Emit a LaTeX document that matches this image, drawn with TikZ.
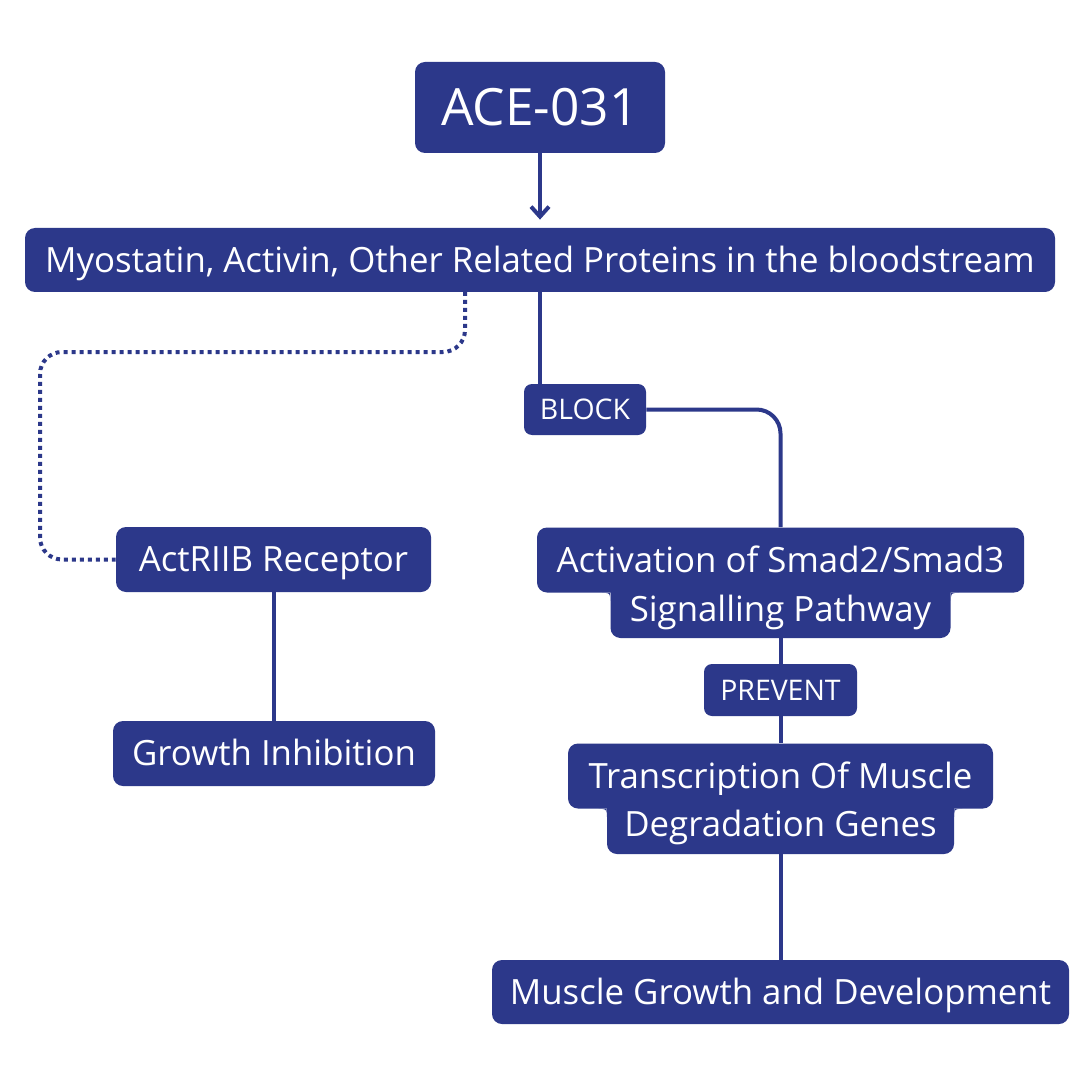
\documentclass[tikz,border=0pt]{standalone}
\usepackage{fontspec}
\setmainfont{Open Sans}
\usepackage{tikz}
\usetikzlibrary{arrows.meta,calc,positioning}
\definecolor{plexblue}{RGB}{44,56,138}

\tikzset{
  box/.style={fill=plexblue, text=white, rounded corners=5pt, inner sep=0pt, align=center,
    text height=12.5pt, text depth=0.1pt},
  tag/.style={box, rounded corners=4pt, font=\fontsize{14.2}{17}\selectfont,
    text height=10.2pt, text depth=0.1pt},
  link/.style={draw=plexblue, line width=2pt}
}
% concave corner where a wide line box meets the narrower one below it
\newcommand{\innerfillet}[2]{\fill[plexblue] ($(#1)+(#2,0)$) -- (#1) -- ($(#1)+(0,8)$) .. controls (#1) .. ($(#1)+(#2,0)$) -- cycle;}

\begin{document}
\begin{tikzpicture}[x=0.5pt,y=-0.5pt, font=\fontsize{17.4}{21}\selectfont]
\useasboundingbox[fill=white] (0,0) rectangle (1080,1080);

% top
\node[box, minimum width=125pt, minimum height=45.5pt, font=\fontsize{25.7}{30}\selectfont,
  text height=18.5pt, text depth=0.1pt] (ace) at (540,107.5) {ACE-031};
\node[box, minimum width=515pt, minimum height=32pt] (proteins) at (540,260) {Myostatin, Activin, Other Related Proteins in the bloodstream};

% left branch
\node[box, minimum width=157.5pt, minimum height=32.5pt] (receptor) at (273.5,559.5) {ActRIIB Receptor};
\node[box, minimum width=161pt, minimum height=32.5pt] (inhibition) at (274,753.5) {Growth Inhibition};

% right branch
\node[tag, minimum width=61pt, minimum height=25.5pt] (block) at (585,409.5) {BLOCK};
\node[box, minimum width=243.5pt, minimum height=32.5pt] (smadA) at (780.5,560) {Activation of Smad2/Smad3};
\node[box, minimum width=170pt, minimum height=29pt] (smadB) at (780.5,609) {Signalling Pathway};
\innerfillet{smadA.south -| smadB.west}{-8}
\innerfillet{smadA.south -| smadB.east}{8}
\node[tag, minimum width=76.5pt, minimum height=26pt] (prevent) at (780.5,690) {PREVENT};
\node[box, minimum width=212.5pt, minimum height=32.5pt] (transA) at (780.5,776) {Transcription Of Muscle};
\node[box, minimum width=173.5pt, minimum height=29.5pt] (transB) at (780.5,824.5) {Degradation Genes};
\innerfillet{transA.south -| transB.west}{-8}
\innerfillet{transA.south -| transB.east}{8}
\node[box, minimum width=288.5pt, minimum height=32pt] (muscle) at (780.5,992) {Muscle Growth and Development};

\coordinate (dotTop) at (465,292);
\coordinate (bend) at (40,352);

% connectors
\draw[link, -{Straight Barb[length=5pt,width=9pt]}, shorten >=4pt] (ace) -- (proteins);
\draw[link, dash pattern=on 2pt off 2pt, rounded corners=11pt] (dotTop) |- (bend) |- (receptor.west);
\draw[link] (receptor.south) -- (receptor.south |- inhibition.north);
\draw[link] (proteins.south) -- (proteins.south |- block.north);
\draw[link, rounded corners=12pt] (block.east) -| (smadA.north);
\draw[link] (smadB) -- (prevent);
\draw[link] (prevent) -- (transA);
\draw[link] (transB) -- (muscle);
\end{tikzpicture}
\end{document}
